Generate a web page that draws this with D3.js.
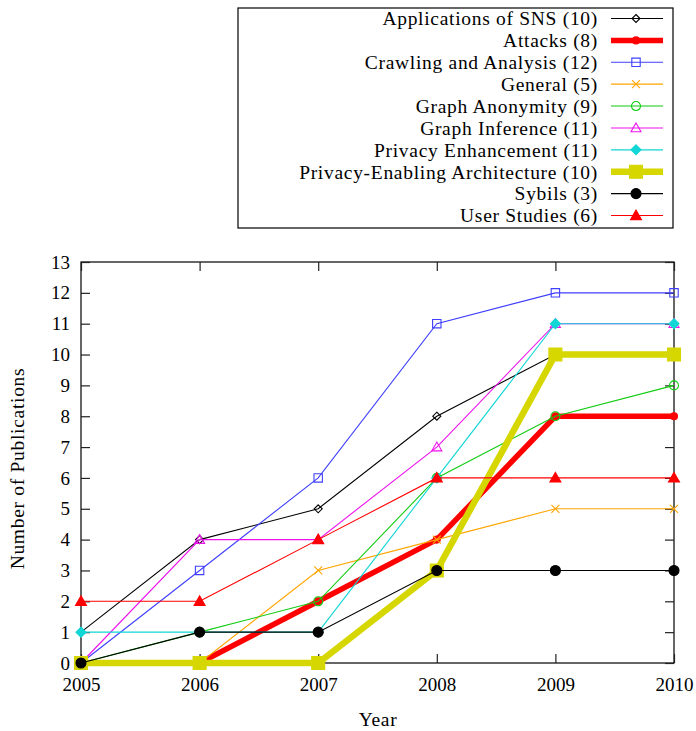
<!DOCTYPE html>
<html>
<head>
<meta charset="utf-8">
<script src="https://cdn.jsdelivr.net/npm/d3@7"></script>
<style>
  body { margin: 0; background: #fff; }
  text { font-family: "Liberation Serif", "DejaVu Serif", serif; font-size: 19px; fill: #000; }
  text.word { font-size: 19.5px; letter-spacing: 0.7px; }
</style>
</head>
<body>
<div id="chart"></div>
<script>
// data
const years = [2005, 2006, 2007, 2008, 2009, 2010];
const yTicks = d3.range(0, 14);

const seriesNames = [
  "Applications of SNS (10)", "Attacks (8)", "Crawling and Analysis (12)", "General (5)",
  "Graph Anonymity (9)", "Graph Inference (11)", "Privacy Enhancement (11)",
  "Privacy-Enabling Architecture (10)", "Sybils (3)", "User Studies (6)"
];
const applications = [1, 4, 5, 8, 10, 10];
const attacks      = [0, 0, 2, 4, 8, 8];
const crawling     = [0, 3, 6, 11, 12, 12];
const general      = [0, 0, 3, 4, 5, 5];
const anonymity    = [0, 1, 2, 6, 8, 9];
const inference    = [0, 4, 4, 7, 11, 11];
const enhancement  = [1, 1, 1, 6, 11, 11];
const architecture = [0, 0, 0, 3, 10, 10];
const sybils       = [0, 1, 1, 3, 3, 3];
const userStudies  = [2, 2, 4, 6, 6, 6];
const seriesValues = [applications, attacks, crawling, general, anonymity,
                      inference, enhancement, architecture, sybils, userStudies];

// styles: colour, line width, marker type, marker half size, filled
const styles = [
  { color: "#000000", lw: 1.1, mk: "diamond", r: 4, fill: false },
  { color: "#ff0000", lw: 5.5, mk: "circle", r: 3.5, fill: true },
  { color: "#3f3fff", lw: 1.1, mk: "square", r: 4.2, fill: false },
  { color: "#ffa500", lw: 1.1, mk: "x", r: 4, fill: false },
  { color: "#11cc11", lw: 1.1, mk: "circle", r: 4.5, fill: false },
  { color: "#ee11ee", lw: 1.1, mk: "triangle", r: 5, fill: false },
  { color: "#11d6d6", lw: 1.1, mk: "diamond", r: 5, fill: true },
  { color: "#d6d600", lw: 6.5, mk: "square", r: 6.5, fill: true },
  { color: "#000000", lw: 1.1, mk: "circle", r: 5, fill: true },
  { color: "#ff0000", lw: 1.1, mk: "triangle", r: 5.5, fill: true }
];

function markerPath(type, r) {
  if (type === "circle") {
    const p = d3.path(); p.arc(0, 0, r, 0, 2 * Math.PI); p.closePath(); return p.toString();
  }
  if (type === "square") return `M${-r},${-r}H${r}V${r}H${-r}Z`;
  if (type === "diamond") return `M0,${-r}L${r},0L0,${r}L${-r},0Z`;
  if (type === "triangle") return `M0,${-r}L${r},${r * 0.75}L${-r},${r * 0.75}Z`;
  if (type === "x") return `M${-r},${-r}L${r},${r}M${-r},${r}L${r},${-r}`;
}

const width = 696, height = 731;
const plotLeft = 81, plotRight = 674, plotTop = 262, plotBottom = 663;

const svg = d3.select("#chart").append("svg")
  .attr("width", width).attr("height", height);

const x = d3.scaleLinear().domain([2005, 2010]).range([plotLeft, plotRight]);
const y = d3.scaleLinear().domain([0, 13]).range([plotBottom, plotTop]);

// border
svg.append("rect")
  .attr("x", plotLeft).attr("y", plotTop)
  .attr("width", plotRight - plotLeft).attr("height", plotBottom - plotTop)
  .attr("fill", "none").attr("stroke", "#000").attr("stroke-width", 1.2);

// axes with inward ticks, mirrored
const tickLen = 9;
const gx = svg.append("g").attr("transform", `translate(0,${plotBottom})`)
  .call(d3.axisBottom(x).tickValues(years).tickFormat(d3.format("d")).tickSizeInner(-tickLen).tickSizeOuter(0).tickPadding(15));
const gxTop = svg.append("g").attr("transform", `translate(0,${plotTop})`)
  .call(d3.axisTop(x).tickValues(years).tickFormat("").tickSizeInner(-tickLen).tickSizeOuter(0));
const gy = svg.append("g").attr("transform", `translate(${plotLeft},0)`)
  .call(d3.axisLeft(y).tickValues(yTicks).tickFormat(d3.format("d")).tickSizeInner(-tickLen).tickSizeOuter(0).tickPadding(11));
const gyRight = svg.append("g").attr("transform", `translate(${plotRight},0)`)
  .call(d3.axisRight(y).tickValues(yTicks).tickFormat("").tickSizeInner(-tickLen).tickSizeOuter(0));

[gx, gxTop, gy, gyRight].forEach(g => {
  g.select(".domain").remove();
  g.selectAll("line").attr("stroke", "#222").attr("stroke-width", 1.2);
  g.selectAll("text").attr("font-size", null).attr("font-family", null);
});
gx.selectAll("text").attr("dy", "0.71em");

// axis titles
svg.append("text").attr("class", "word").attr("x", 378).attr("y", 726).attr("text-anchor", "middle").text("Year");
svg.append("text").attr("class", "word")
  .attr("transform", `translate(24,${(plotTop + plotBottom) / 2 + 6}) rotate(-90)`)
  .attr("text-anchor", "middle").text("Number of Publications");

// series
const line = d3.line().x((d, i) => x(years[i])).y(d => y(d));
const plot = svg.append("g");
seriesValues.forEach((vals, k) => {
  const st = styles[k];
  const g = plot.append("g");
  g.append("path").attr("d", line(vals))
    .attr("fill", "none").attr("stroke", st.color).attr("stroke-width", st.lw)
    .attr("stroke-linejoin", "miter");
  g.selectAll("path.mk").data(vals).join("path").attr("class", "mk")
    .attr("transform", (d, i) => `translate(${x(years[i])},${y(d)})`)
    .attr("d", markerPath(st.mk, st.r))
    .attr("fill", st.fill ? st.color : "none")
    .attr("stroke", st.color).attr("stroke-width", 1.1);
});

// legend
const lgLeft = 238, lgTop = 8, lgRight = 673, lgBottom = 228;
const legend = svg.append("g");
legend.append("rect")
  .attr("x", lgLeft).attr("y", lgTop).attr("width", lgRight - lgLeft).attr("height", lgBottom - lgTop)
  .attr("fill", "#fff").attr("stroke", "#000").attr("stroke-width", 1.2);
const rowY = d3.scaleLinear().domain([0, seriesNames.length - 1]).range([18.5, 215.5]);
seriesNames.forEach((name, k) => {
  const st = styles[k];
  const ry = rowY(k);
  legend.append("text").attr("class", "word").attr("x", 598).attr("y", ry).attr("dy", "0.35em")
    .attr("text-anchor", "end").text(name);
  legend.append("line").attr("x1", 611).attr("x2", 663).attr("y1", ry).attr("y2", ry)
    .attr("stroke", st.color).attr("stroke-width", st.lw);
  legend.append("path").attr("transform", `translate(636,${ry})`)
    .attr("d", markerPath(st.mk, st.r))
    .attr("fill", st.fill ? st.color : "none")
    .attr("stroke", st.color).attr("stroke-width", 1.1);
});
</script>
</body>
</html>
